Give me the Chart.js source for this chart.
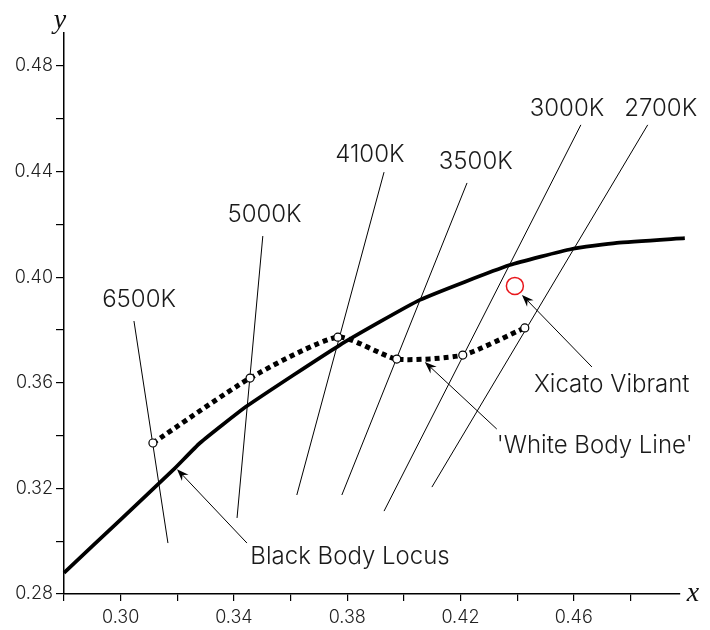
<!DOCTYPE html>
<html><head><meta charset="utf-8">
<script src="https://cdn.jsdelivr.net/npm/chart.js@4/dist/chart.umd.min.js"></script>
<style>html,body{margin:0;padding:0;background:#fff}#wrap{width:710px;height:630px}</style>
</head><body><div id="wrap"><canvas id="c" width="710" height="630"></canvas></div>
<script>
// Black body locus (CIE x, y)
const locusX = [0.280, 0.300, 0.3192, 0.3280, 0.3446, 0.3774, 0.4057, 0.4374, 0.4593, 0.4752, 0.4992];
const locusY = [0.2880, 0.3082, 0.3277, 0.3372, 0.3512, 0.3743, 0.3914, 0.4046, 0.4107, 0.4130, 0.4148];
// 'White Body Line' points
const whiteX = [0.3114, 0.3457, 0.3767, 0.3975, 0.4208, 0.4427];
const whiteY = [0.3372, 0.3618, 0.3773, 0.3690, 0.3705, 0.3808];
// Isotherm lines
const isoNames = ['6500K', '5000K', '4100K', '3500K', '3000K', '2700K'];
const isoTopX = [0.3047, 0.3502, 0.3930, 0.4223, 0.4625, 0.4861];
const isoTopY = [0.3834, 0.4156, 0.4398, 0.4357, 0.4577, 0.4577];
const isoBotX = [0.3167, 0.3411, 0.3622, 0.3781, 0.3930, 0.4099];
const isoBotY = [0.2993, 0.3088, 0.3175, 0.3175, 0.3114, 0.3205];
const isoLabelX = [0.3065, 0.3508, 0.3880, 0.4254, 0.4576, 0.4907];
const isoLabelY = [0.3887, 0.4209, 0.4436, 0.4410, 0.4611, 0.4611];
// Xicato Vibrant point
const xicatoX = [0.4392];
const xicatoY = [0.3967];
// Callouts: text, text anchor (x,y baseline), arrow from, arrow to
const calloutText = ['Xicato Vibrant', "'White Body Line'", 'Black Body Locus'];
const calloutX = [0.4734, 0.4674, 0.3810];
const calloutY = [0.3565, 0.3334, 0.2914];
const arrowFromX = [0.4664, 0.4328, 0.3446];
const arrowFromY = [0.3660, 0.3425, 0.2993];
const arrowToX = [0.4417, 0.4074, 0.3199];
const arrowToY = [0.3933, 0.3679, 0.3273];
// Ticks
const xTicks = [0.28, 0.30, 0.32, 0.34, 0.36, 0.38, 0.40, 0.42, 0.44, 0.46, 0.48];
const xTickLabels = ['', '0.30', '', '0.34', '', '0.38', '', '0.42', '', '0.46', ''];
const yTicks = [0.28, 0.30, 0.32, 0.34, 0.36, 0.38, 0.40, 0.42, 0.44, 0.46, 0.48];
const yTickLabels = ['0.28', '', '0.32', '', '0.36', '', '0.40', '', '0.44', '', '0.48'];

const FONT = 'Inter, "Liberation Sans", sans-serif';
const pts = (xs, ys) => xs.map((x, i) => ({x, y: ys[i]}));

const datasets = [
  {label: 'White Body Line', data: pts(whiteX, whiteY), showLine: true, borderColor: '#000',
   borderWidth: 5, borderDash: [5, 4], borderCapStyle: 'butt', tension: 0.2,
   pointRadius: 4, pointBackgroundColor: '#fff', pointBorderColor: '#000', pointBorderWidth: 1.2, order: 0, clip: false},
  {label: 'Xicato Vibrant', data: pts(xicatoX, xicatoY), showLine: false,
   pointRadius: 8.5, pointBackgroundColor: 'rgba(0,0,0,0)', pointBorderColor: '#e8161b', pointBorderWidth: 1.5, order: 0, clip: false},
  {label: 'Black Body Locus', data: pts(locusX, locusY), showLine: true, borderColor: '#000',
   borderWidth: 3.7, pointRadius: 0, tension: 0.15, order: 1, clip: false},
];
isoNames.forEach((n, i) => {
  datasets.push({label: n, data: [{x: isoTopX[i], y: isoTopY[i]}, {x: isoBotX[i], y: isoBotY[i]}],
    showLine: true, borderColor: '#000', borderWidth: 1, pointRadius: 0, order: 2, clip: false});
});

function arrow(ctx, x1, y1, x2, y2) {
  const a = Math.atan2(y2 - y1, x2 - x1);
  const L = 12, W = 4.5, N = 8;
  ctx.beginPath();
  ctx.moveTo(x1, y1);
  ctx.lineTo(x2 - Math.cos(a) * N, y2 - Math.sin(a) * N);
  ctx.stroke();
  ctx.beginPath();
  ctx.moveTo(x2, y2);
  ctx.lineTo(x2 - Math.cos(a) * L + Math.sin(a) * W, y2 - Math.sin(a) * L - Math.cos(a) * W);
  ctx.lineTo(x2 - Math.cos(a) * N, y2 - Math.sin(a) * N);
  ctx.lineTo(x2 - Math.cos(a) * L - Math.sin(a) * W, y2 - Math.sin(a) * L + Math.cos(a) * W);
  ctx.closePath();
  ctx.fill();
}

const annot = {
  id: 'annot',
  afterDraw(chart) {
    const {ctx, scales: {x, y}, chartArea} = chart;
    ctx.save();
    ctx.fillStyle = '#1a1a1a';
    ctx.font = '300 24px ' + FONT;
    ctx.textAlign = 'center';
    ctx.textBaseline = 'alphabetic';
    isoNames.forEach((n, i) => ctx.fillText(n, x.getPixelForValue(isoLabelX[i]), y.getPixelForValue(isoLabelY[i])));
    calloutText.forEach((t, i) => ctx.fillText(t, x.getPixelForValue(calloutX[i]), y.getPixelForValue(calloutY[i])));
    ctx.strokeStyle = '#000';
    ctx.fillStyle = '#000';
    ctx.lineWidth = 1;
    calloutText.forEach((t, i) => arrow(ctx,
      x.getPixelForValue(arrowFromX[i]), y.getPixelForValue(arrowFromY[i]),
      x.getPixelForValue(arrowToX[i]), y.getPixelForValue(arrowToY[i])));
    ctx.fillStyle = '#111';
    ctx.font = 'italic 28px "Liberation Serif", "DejaVu Serif", serif';
    ctx.textAlign = 'center';
    ctx.textBaseline = 'alphabetic';
    ctx.fillText('y', chartArea.left - 4, chartArea.top - 5);
    ctx.fillText('x', chartArea.right + 13, chartArea.bottom + 7);
    ctx.restore();
  }
};

const tickFont = {family: FONT, size: 18, weight: 300};
new Chart(document.getElementById('c'), {
  type: 'scatter',
  data: {datasets},
  options: {
    responsive: false, animation: false, devicePixelRatio: 1,
    layout: {padding: {top: 33, right: 30, left: 0, bottom: 0}},
    plugins: {legend: {display: false}, tooltip: {enabled: false}},
    scales: {
      x: {type: 'linear', min: 0.28, max: 0.4975,
        afterBuildTicks: s => { s.ticks = xTicks.map(v => ({value: v})); },
        afterFit: s => { s.height = 36; },
        ticks: {callback: (v, i) => xTickLabels[i], autoSkip: false, maxRotation: 0, font: tickFont, color: '#222', padding: 6},
        grid: {drawOnChartArea: false, drawTicks: true, tickLength: 7, color: '#000', lineWidth: 1.2},
        border: {color: '#000', width: 1.5}},
      y: {type: 'linear', min: 0.28, max: 0.4925,
        afterBuildTicks: s => { s.ticks = yTicks.map(v => ({value: v})); },
        afterFit: s => { s.width = 64; },
        ticks: {callback: (v, i) => yTickLabels[i], autoSkip: false, font: tickFont, color: '#222', padding: 3},
        grid: {drawOnChartArea: false, drawTicks: true, tickLength: 8, color: '#000', lineWidth: 1.2},
        border: {color: '#000', width: 1.5}}
    }
  },
  plugins: [annot]
});
</script></body></html>
